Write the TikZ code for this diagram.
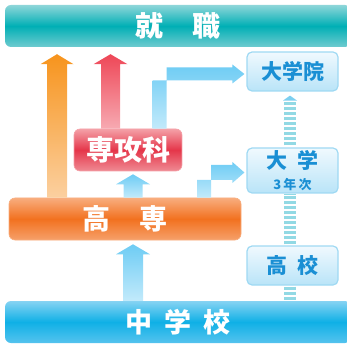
\documentclass[tikz,border=0pt]{standalone}
\usepackage{fontspec}
\setmainfont{Noto Sans CJK JP}
\usetikzlibrary{calc}
\definecolor{tealA}{HTML}{8ED6D9}
\definecolor{tealB}{HTML}{00AFB5}
\definecolor{tealC}{HTML}{6FCBCF}
\definecolor{blueA}{HTML}{86D3F3}
\definecolor{blueB}{HTML}{0FB0E6}
\definecolor{blueC}{HTML}{55C3EE}
\definecolor{orA}{HTML}{F8AD7E}
\definecolor{orB}{HTML}{F2711F}
\definecolor{orC}{HTML}{F6A06A}
\definecolor{rdA}{HTML}{F4A0A7}
\definecolor{rdB}{HTML}{E5364A}
\definecolor{rdC}{HTML}{EF8A93}
\definecolor{ltA}{HTML}{F0F9FE}
\definecolor{ltB}{HTML}{B9E4F8}
\definecolor{ltBorder}{HTML}{9FD9F3}
\definecolor{ltText}{HTML}{1A8FD4}
\definecolor{arrOrTop}{HTML}{F7941D}
\definecolor{arrOrBot}{HTML}{FBD0A0}
\definecolor{arrRdTop}{HTML}{EE4757}
\definecolor{arrRdBot}{HTML}{F7AAB2}
\definecolor{arrBlTop}{HTML}{6ECCF4}
\definecolor{arrBlBot}{HTML}{C2EAFB}
\definecolor{stripeCol}{HTML}{92D9E4}
\definecolor{stripeHead}{HTML}{7CCFF0}
\newcommand\vArrow[6]{%
  \path[#6] let \p1=(#2), \p2=(#3) in
    (#1-#4,\y1) -- (#1-#4,\y2-10) -- (#1-#5,\y2-10) -- (#1,\y2) --
    (#1+#5,\y2-10) -- (#1+#4,\y2-10) -- (#1+#4,\y1) -- cycle;}
\newcommand\elbowArrow[7]{%
  \path[#7] let \p1=(#2), \p2=(#3) in
    (#1-#4,\y1) -- (#1-#4,\y2-#5) -- (\x2-12,\y2-#5) -- (\x2-12,\y2-#6) --
    (\x2,\y2) -- (\x2-12,\y2+#6) -- (\x2-12,\y2+#5) -- (#1+#4,\y2+#5) --
    (#1+#4,\y1) -- cycle;}
\tikzset{
  bar/.style={rounded corners=6pt, inner sep=0pt, text=white, font=\bfseries\fontsize{28}{30}\selectfont},
  tealbar/.style={bar, top color=tealA, bottom color=tealC, middle color=tealB},
  bluebar/.style={bar, top color=blueA, bottom color=blueC, middle color=blueB},
  orbox/.style={rounded corners=6pt, inner sep=0pt, text=white, draw=orA, line width=0.6pt,
    top color=orA, bottom color=orC, middle color=orB, font=\bfseries\fontsize{28}{30}\selectfont},
  rdbox/.style={rounded corners=6pt, inner sep=0pt, text=white, draw=rdA, line width=0.6pt,
    top color=rdA, bottom color=rdC, middle color=rdB, font=\bfseries\fontsize{28}{30}\selectfont},
  ltbox/.style={rounded corners=5pt, inner sep=0pt, text=ltText, draw=ltBorder, line width=1.2pt,
    top color=ltA, bottom color=ltB, font=\bfseries\fontsize{21}{23}\selectfont, align=center},
  orarrow/.style={top color=arrOrTop, bottom color=arrOrBot},
  rdarrow/.style={top color=arrRdTop, bottom color=arrRdBot},
  blarrow/.style={top color=arrBlTop, bottom color=arrBlBot},
  stripes/.style={draw=stripeCol, line width=12pt, dash pattern=on 3pt off 2pt},
}
\begin{document}
\begin{tikzpicture}[x=1pt,y=1pt]
\useasboundingbox (0,0) rectangle (347,345);
% nodes
\node[tealbar, minimum width=346pt, minimum height=42pt] (shushoku) at (178,319) {就\hspace{1.05em}職};
\node[bluebar, minimum width=346pt, minimum height=42pt, font=\bfseries\fontsize{27}{29}\selectfont] (chugakko) at (178,23) {中\hspace{0.45em}学\hspace{0.45em}校};
\node[orbox, minimum width=232pt, minimum height=42pt] (kosen) at (125,126) {高\hspace{1.05em}専};
\node[rdbox, minimum width=108pt, minimum height=42pt] (senkoka) at (128,195) {専攻科};
\node[ltbox, minimum width=91pt, minimum height=39pt] (daigakuin) at (292.5,273.5) {大学院};
\node[ltbox, minimum width=91pt, minimum height=45pt] (daigaku) at (292.5,174.5)
  {\fontsize{21}{21}\selectfont 大\hspace{0.45em}学\\[-2pt]{\fontsize{13}{13}\selectfont 3\,年\,次}};
\node[ltbox, minimum width=91pt, minimum height=39pt] (kokou) at (292.5,79.5) {高\hspace{0.45em}校};
% stripes (high school route)
\draw[stripes] ($(kokou.south)+(-2.5,-1)$) -- ($(kokou.south -| chugakko.north)+(112,-16)$);
\draw[stripes] ($(kokou.north)+(-2.5,1)$) -- ($(daigaku.south)+(-2.5,0)$);
\draw[stripes] ($(daigaku.north)+(-2.5,2)$) -- ($(daigakuin.south)+(-2.5,-9)$);
\fill[stripeHead] ($(daigakuin.south)+(-9.5,-9)$) -- ($(daigakuin.south)+(-2.5,-4)$) -- ($(daigakuin.south)+(4.5,-9)$) -- cycle;
% arrows
\vArrow{57}{kosen.north}{$(shushoku.south)+(0,-7)$}{10}{16.5}{orarrow}
\vArrow{110.5}{senkoka.north}{$(shushoku.south)+(0,-7)$}{9.5}{17}{rdarrow}
\vArrow{133}{kosen.north}{$(senkoka.south)+(0,-3)$}{9.5}{17}{blarrow}
\vArrow{133}{chugakko.north}{$(kosen.south)+(0,-4)$}{10}{17}{blarrow}
\elbowArrow{159.5}{senkoka.north}{$(daigakuin.west)+(-2,-2.5)$}{7}{6.5}{9.5}{blarrow}
\elbowArrow{204}{kosen.north}{$(daigaku.west)+(-2,-2)$}{7}{7.5}{10.5}{blarrow}
\end{tikzpicture}
\end{document}
